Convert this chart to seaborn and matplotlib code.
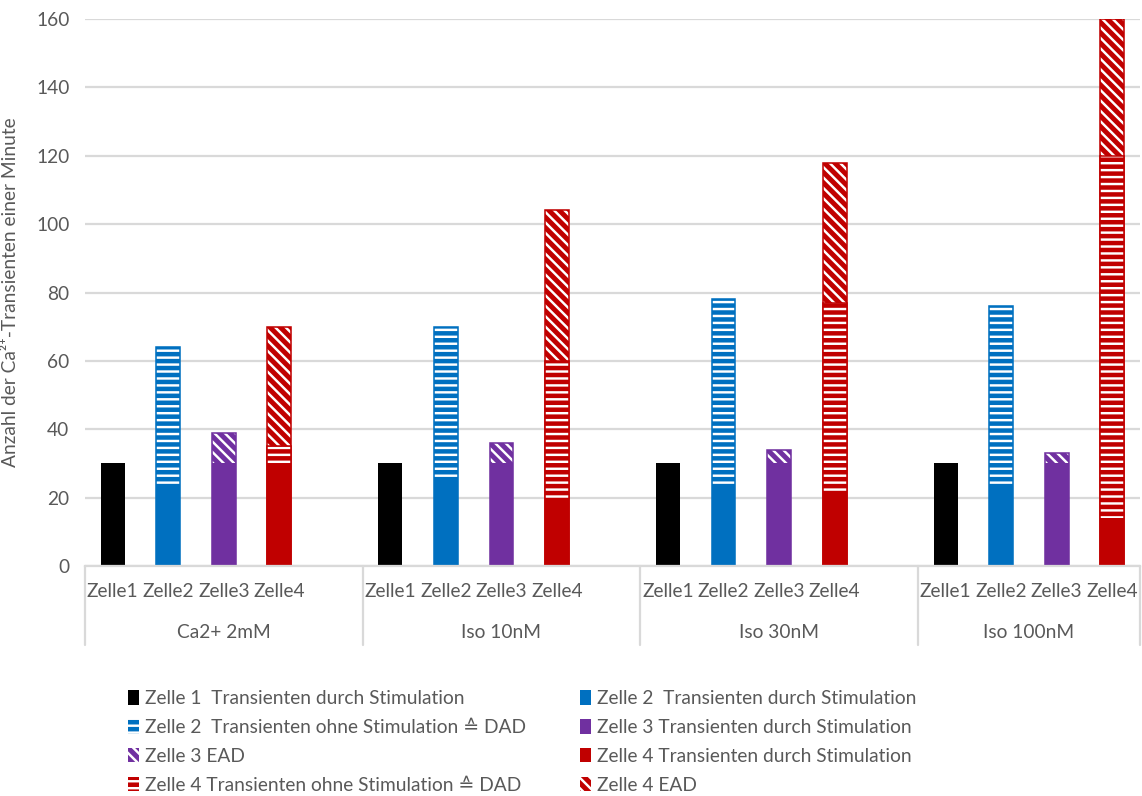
import matplotlib
matplotlib.use("Agg")
import matplotlib.pyplot as plt
import matplotlib.patches as mpatches
import matplotlib.transforms as mtransforms
import seaborn as sns
import pandas as pd

# ---- data -----------------------------------------------------------------
groups = ["Ca2+ 2mM", "Iso 10nM", "Iso 30nM", "Iso 100nM"]
cells = ["Zelle1", "Zelle2", "Zelle3", "Zelle4"]

z1_stim = [30, 30, 30, 30]
z2_stim = [23, 25, 23, 23]
z2_dad = [41, 45, 55, 53]
z3_stim = [30, 30, 30, 30]
z3_ead = [9, 6, 4, 3]
z4_stim = [29, 19, 21, 14]
z4_dad = [6, 41, 56, 106]
z4_ead = [35, 44, 41, 40]

y_ticks = [0, 20, 40, 60, 80, 100, 120, 140, 160]

legend_labels = [
    "Zelle 1  Transienten durch Stimulation",
    "Zelle 2  Transienten durch Stimulation",
    "Zelle 2  Transienten ohne Stimulation \u2259 DAD",
    "Zelle 3 Transienten durch Stimulation",
    "Zelle 3 EAD",
    "Zelle 4 Transienten durch Stimulation",
    "Zelle 4 Transienten ohne Stimulation \u2259 DAD",
    "Zelle 4 EAD",
]

colors = {"Zelle1": "#000000", "Zelle2": "#0070C0",
          "Zelle3": "#7030A0", "Zelle4": "#C00000"}
GRAY = "#595959"
GRID = "#D9D9D9"
H_DAD = "---"
H_EAD = "\\\\\\\\"
FONT = ["Lato", "DejaVu Sans"]

# ---- long table: one row per (group, cell); an empty slot separates groups --
rows = []
stim = {"Zelle1": z1_stim, "Zelle2": z2_stim, "Zelle3": z3_stim, "Zelle4": z4_stim}
dad = {"Zelle2": z2_dad, "Zelle4": z4_dad}
ead = {"Zelle3": z3_ead, "Zelle4": z4_ead}
slot_order = []
for gi, g in enumerate(groups):
    for ci, c in enumerate(cells):
        slot = f"{g}|{c}"
        slot_order.append(slot)
        s = stim[c][gi]
        d = dad[c][gi] if c in dad else 0
        e = ead[c][gi] if c in ead else 0
        rows.append(dict(group=g, cell=c, slot=slot,
                         stim=s, stim_dad=s + d, total=s + d + e,
                         has_dad=c in dad, has_ead=c in ead))
    if gi < len(groups) - 1:
        slot_order.append(f"gap{gi}")
df = pd.DataFrame(rows)

# ---- figure ---------------------------------------------------------------
plt.rcParams["hatch.linewidth"] = 1.4
sns.set_style("white")
plt.rcParams["font.family"] = FONT

DPI = 125
fig = plt.figure(figsize=(1142 / DPI, 796 / DPI), dpi=DPI)
ax = fig.add_axes([85 / 1142, 1 - 566 / 796, 1055 / 1142, 547 / 796])

W = 0.43
common = dict(x="slot", hue="cell", palette=colors, order=slot_order,
              width=W, dodge=False, errorbar=None, legend=False,
              saturation=1, ax=ax)


def layer(sub, col, hatch=None):
    """One cumulative layer; hatched layers get white hatching plus a coloured outline."""
    if hatch is None:
        sns.barplot(data=sub, y=col, linewidth=0, **common)
    else:
        sns.barplot(data=sub, y=col, hatch=hatch, edgecolor="white",
                    linewidth=0, **common)
        sns.barplot(data=sub, y=col, fill=False, linewidth=0.9, **common)


# top segments first, lower segments painted over them
layer(df[df.has_ead], "total", H_EAD)
layer(df[df.has_dad], "stim_dad", H_DAD)
layer(df, "stim")

# ---- axes styling ---------------------------------------------------------
ax.set_xlim(-0.5, len(slot_order) - 0.5)
ax.set_ylim(0, 160)
ax.set_yticks(y_ticks)
ax.yaxis.grid(True, color=GRID, lw=1.3)
ax.xaxis.grid(False)
ax.set_axisbelow(True)
for s in ["left", "right", "top"]:
    ax.spines[s].set_visible(False)
ax.spines["bottom"].set_color(GRID)
ax.spines["bottom"].set_linewidth(1.3)

ax.tick_params(axis="y", length=0, pad=9, labelsize=11, labelcolor=GRAY)
ax.set_xticks(range(len(slot_order)))
ax.set_xticklabels([s.split("|")[1] if "|" in s else "" for s in slot_order])
ax.tick_params(axis="x", length=0, pad=10, labelsize=11, labelcolor=GRAY)
ax.set_xlabel("")
ax.set_ylabel("Anzahl der Ca\u00b2\u207a-Transienten einer Minute",
              fontsize=11, color=GRAY, labelpad=10)

# group labels and separators of the two-level category axis
trans = mtransforms.blended_transform_factory(ax.transData, ax.transAxes)
starts = [-0.5, 4.5, 9.5, 14.5]
ends = [4.5, 9.5, 14.5, len(slot_order) - 0.5]
for g, a, b in zip(groups, starts, ends):
    ax.text((a + b) / 2, -(633 - 566) / 547, g, transform=trans,
            ha="center", va="center", fontsize=11, color=GRAY)
for xv in starts + [ends[-1]]:
    ax.plot([xv, xv], [0, -(645 - 566) / 547], transform=trans,
            color=GRID, lw=1.3, clip_on=False)


# ---- legend ---------------------------------------------------------------
def patch(c, hatch=None):
    if hatch is None:
        return mpatches.Patch(facecolor=colors[c], edgecolor=colors[c], lw=0)
    return mpatches.Patch(facecolor=colors[c], edgecolor="white", hatch=hatch, lw=0)


handles = [
    patch("Zelle1"), patch("Zelle2"), patch("Zelle2", H_DAD), patch("Zelle3"),
    patch("Zelle3", H_EAD), patch("Zelle4"), patch("Zelle4", H_DAD),
    patch("Zelle4", H_EAD),
]
# two columns filled row by row
order = [0, 2, 4, 6, 1, 3, 5, 7]
leg = fig.legend([handles[i] for i in order], [legend_labels[i] for i in order],
                 ncol=2, loc="upper left",
                 bbox_to_anchor=(128 / 1142, 1 - 690 / 796),
                 frameon=False, fontsize=11, labelcolor=GRAY,
                 handlelength=0.6, handleheight=0.8, handletextpad=0.3,
                 columnspacing=2.8, labelspacing=0.62, borderaxespad=0,
                 borderpad=0)

fig.savefig("out.png", dpi=DPI)
